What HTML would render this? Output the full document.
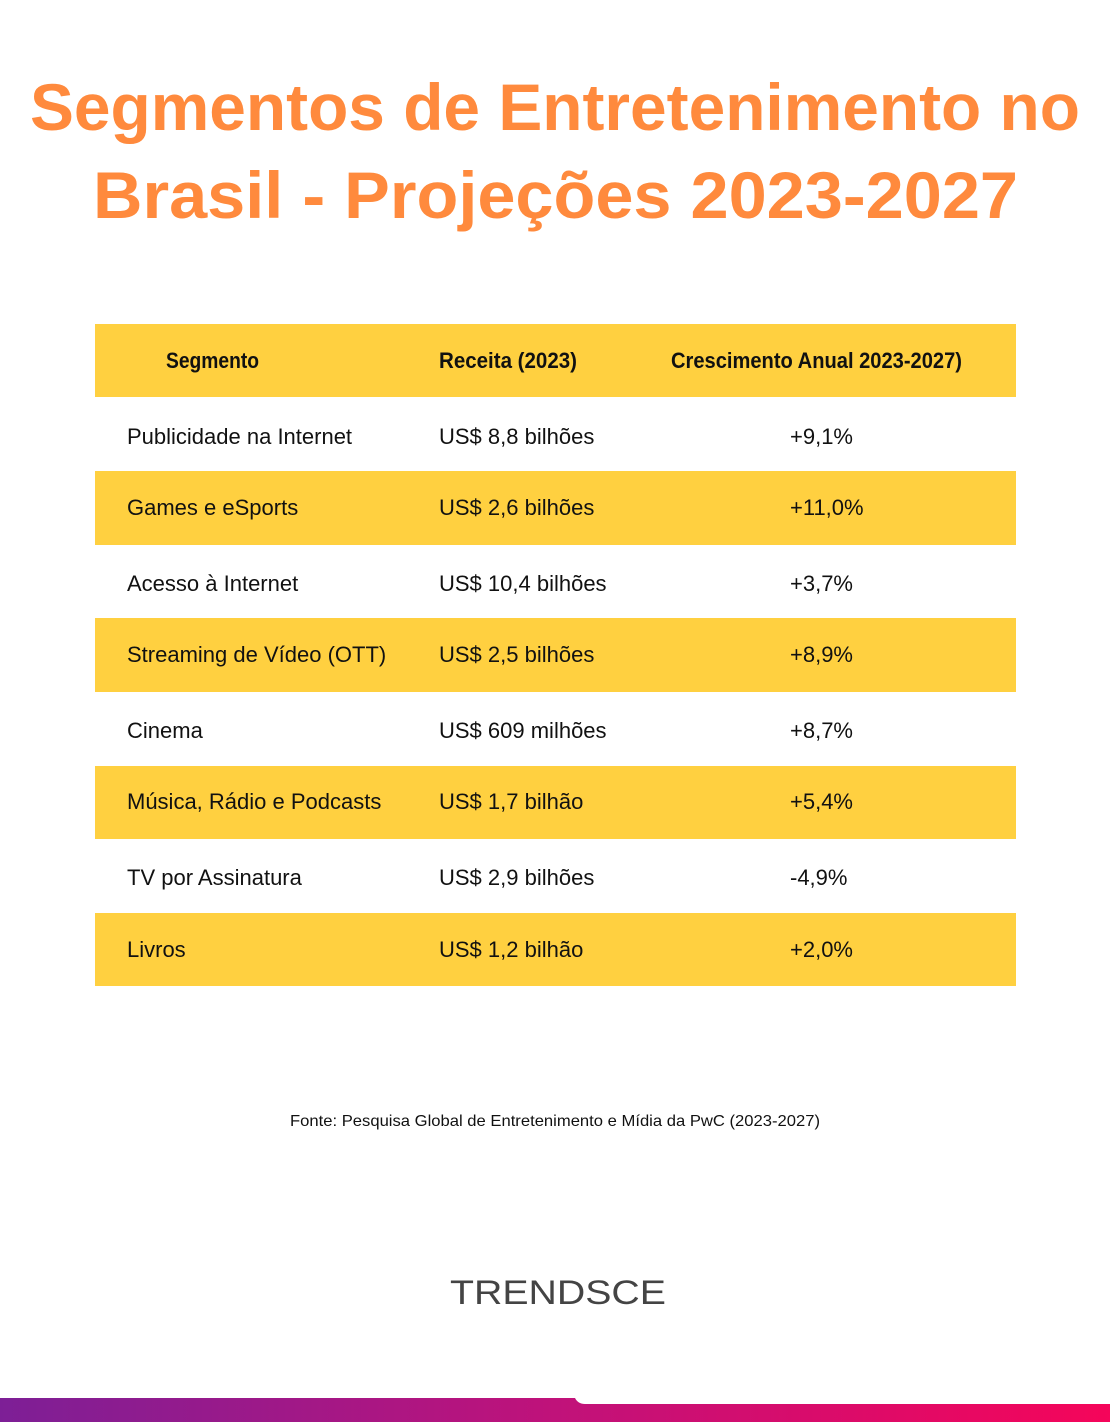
<!DOCTYPE html>
<html><head><meta charset="utf-8"><style>
html,body{margin:0;padding:0;background:#fff}
svg{display:block}
text{font-family:"Liberation Sans Narrow","Liberation Sans",sans-serif}
</style></head><body>
<svg width="1110" height="1422" viewBox="0 0 1110 1422" xmlns="http://www.w3.org/2000/svg">
<defs><linearGradient id="g" x1="0" x2="1" y1="0" y2="0"><stop offset="0" stop-color="#7d1f96"/><stop offset="0.5" stop-color="#c0127a"/><stop offset="1" stop-color="#f5055a"/></linearGradient></defs>
<rect width="1110" height="1422" fill="#fff"/>
<g fill="#ff8a3d" font-weight="bold" font-size="66">
<text x="30" y="130" textLength="1050" lengthAdjust="spacingAndGlyphs" style="font-family:'Liberation Sans',sans-serif">Segmentos de Entretenimento no</text>
<text x="93" y="218" textLength="925" lengthAdjust="spacingAndGlyphs" style="font-family:'Liberation Sans',sans-serif">Brasil - Projeções 2023-2027</text>
</g>
<g fill="#ffd040">
<rect x="95" y="324" width="921" height="73"/>
<rect x="95" y="471" width="921" height="74"/>
<rect x="95" y="618" width="921" height="74"/>
<rect x="95" y="766" width="921" height="73"/>
<rect x="95" y="913" width="921" height="73"/>
</g>
<g fill="#111" font-size="22" font-weight="bold">
<text x="166" y="368" textLength="93" lengthAdjust="spacingAndGlyphs">Segmento</text>
<text x="439" y="368" textLength="138" lengthAdjust="spacingAndGlyphs">Receita (2023)</text>
<text x="671" y="368" textLength="291" lengthAdjust="spacingAndGlyphs">Crescimento Anual 2023-2027)</text>
</g>
<g fill="#111" font-size="22">
<text x="127" y="444">Publicidade na Internet</text><text x="439" y="444">US$ 8,8 bilhões</text><text x="790" y="444">+9,1%</text>
<text x="127" y="515">Games e eSports</text><text x="439" y="515">US$ 2,6 bilhões</text><text x="790" y="515">+11,0%</text>
<text x="127" y="591">Acesso à Internet</text><text x="439" y="591">US$ 10,4 bilhões</text><text x="790" y="591">+3,7%</text>
<text x="127" y="662">Streaming de Vídeo (OTT)</text><text x="439" y="662">US$ 2,5 bilhões</text><text x="790" y="662">+8,9%</text>
<text x="127" y="738">Cinema</text><text x="439" y="738">US$ 609 milhões</text><text x="790" y="738">+8,7%</text>
<text x="127" y="809">Música, Rádio e Podcasts</text><text x="439" y="809">US$ 1,7 bilhão</text><text x="790" y="809">+5,4%</text>
<text x="127" y="885">TV por Assinatura</text><text x="439" y="885">US$ 2,9 bilhões</text><text x="790" y="885">-4,9%</text>
<text x="127" y="957">Livros</text><text x="439" y="957">US$ 1,2 bilhão</text><text x="790" y="957">+2,0%</text>
</g>
<text x="290" y="1126" font-size="16" fill="#111" textLength="530" lengthAdjust="spacingAndGlyphs">Fonte: Pesquisa Global de Entretenimento e Mídia da PwC (2023-2027)</text>
<text x="450" y="1304" font-size="34" fill="#444" textLength="216" lengthAdjust="spacingAndGlyphs" style="font-family:'Liberation Sans',sans-serif">TRENDSCE</text>
<path d="M0 1398 H575 Q578 1404 585 1404 H1110 V1422 H0 Z" fill="url(#g)"/>
</svg>
</body></html>
